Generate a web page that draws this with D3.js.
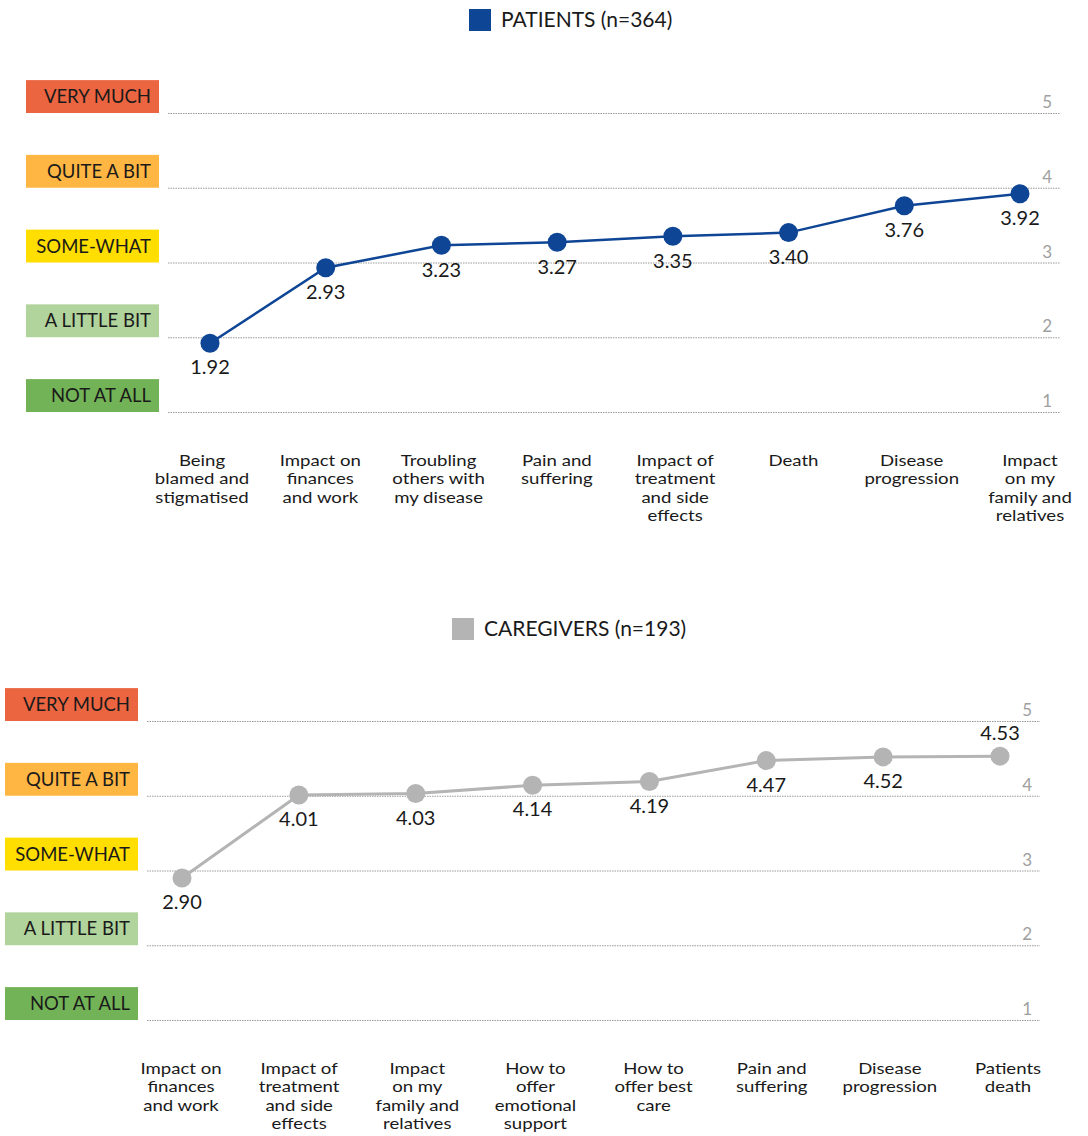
<!DOCTYPE html>
<html>
<head>
<meta charset="utf-8">
<script src="https://cdn.jsdelivr.net/npm/d3@7"></script>
<style>
  html, body { margin: 0; padding: 0; background: #fff; }
  svg { display: block; font-family: Lato, "Open Sans", sans-serif; }
</style>
</head>
<body>
<svg id="chart" width="1088" height="1136"></svg>
<script>
// Worry levels, shared by both panels
const levels = ["NOT AT ALL", "A LITTLE BIT", "SOME-WHAT", "QUITE A BIT", "VERY MUCH"];
const levelColors = ["#73b357", "#b1d49d", "#ffde00", "#ffb643", "#eb6541"];
const tickValues = [1, 2, 3, 4, 5];

// Patients
const patientCategories = [
  "Being\nblamed and\nstigmatised",
  "Impact on\nfinances\nand work",
  "Troubling\nothers with\nmy disease",
  "Pain and\nsuffering",
  "Impact of\ntreatment\nand side\neffects",
  "Death",
  "Disease\nprogression",
  "Impact\non my\nfamily and\nrelatives"
];
const patientValues = [1.92, 2.93, 3.23, 3.27, 3.35, 3.40, 3.76, 3.92];

// Caregivers
const caregiverCategories = [
  "Impact on\nfinances\nand work",
  "Impact of\ntreatment\nand side\neffects",
  "Impact\non my\nfamily and\nrelatives",
  "How to\noffer\nemotional\nsupport",
  "How to\noffer best\ncare",
  "Pain and\nsuffering",
  "Disease\nprogression",
  "Patients\ndeath"
];
const caregiverValues = [2.90, 4.01, 4.03, 4.14, 4.19, 4.47, 4.52, 4.53];

const svg = d3.select("#chart");

function drawPanel(cfg) {
  const g = svg.append("g");
  const y = d3.scaleLinear().domain([1, 5]).range([cfg.bottom, cfg.top]);
  const x = d3.scalePoint().domain(d3.range(cfg.categories.length)).range(cfg.xRange);

  // legend
  const lg = g.append("g");
  lg.append("rect")
    .attr("x", cfg.legendX).attr("y", cfg.legendY - 11)
    .attr("width", 22).attr("height", 22)
    .attr("fill", cfg.color);
  lg.append("text")
    .attr("x", cfg.legendX + 32).attr("y", cfg.legendY)
    .attr("dy", "0.35em")
    .attr("font-size", 21).attr("fill", "#1a1a1a")
    .text(cfg.title);

  // dotted gridlines
  g.append("g").selectAll("line").data(tickValues).join("line")
    .attr("x1", cfg.gridX[0]).attr("x2", cfg.gridX[1])
    .attr("y1", d => y(d) + 0.5).attr("y2", d => y(d) + 0.5)
    .attr("stroke", "#9a9a9a").attr("stroke-width", 1)
    .attr("stroke-dasharray", "1.5,1");

  // right-side tick numbers
  g.append("g").selectAll("text").data(tickValues).join("text")
    .attr("x", cfg.gridX[1] - 8).attr("y", d => y(d) - 5)
    .attr("text-anchor", "end")
    .attr("font-size", 17).attr("fill", "#a0a0a0")
    .text(d => d);

  // level boxes sitting on their gridlines
  const band = y(1) - y(2);
  const box = g.append("g").selectAll("g").data(tickValues).join("g");
  box.append("rect")
    .attr("x", cfg.boxX).attr("y", d => y(d) - band * 0.44)
    .attr("width", 133).attr("height", band * 0.44)
    .attr("fill", (d, i) => levelColors[i]);
  box.append("text")
    .attr("x", cfg.boxX + 125).attr("y", d => y(d) - band * 0.22)
    .attr("dy", "0.36em")
    .attr("text-anchor", "end")
    .attr("font-size", 18.5).attr("fill", "#1a1a1a")
    .text((d, i) => levels[i]);

  // line
  const line = d3.line().x((d, i) => x(i)).y(d => y(d));
  g.append("path")
    .datum(cfg.values)
    .attr("d", line)
    .attr("fill", "none")
    .attr("stroke", cfg.color)
    .attr("stroke-width", cfg.lineWidth);

  // points
  g.append("g").selectAll("circle").data(cfg.values).join("circle")
    .attr("cx", (d, i) => x(i)).attr("cy", d => y(d))
    .attr("r", 9.5)
    .attr("fill", cfg.color);

  // value labels
  g.append("g").selectAll("text").data(cfg.values).join("text")
    .attr("x", (d, i) => x(i))
    .attr("y", (d, i) => y(d) + (cfg.above.includes(i) ? -23 : 24))
    .attr("dy", "0.36em")
    .attr("text-anchor", "middle")
    .attr("font-size", 20).attr("fill", "#1a1a1a")
    .text(d => d.toFixed(2));

  // category labels: slightly widened type, tight leading
  const cat = g.append("g").selectAll("text").data(cfg.categories).join("text")
    .attr("transform", (d, i) => `translate(${cfg.labelX(i)},${cfg.labelY}) scale(1.2,1)`)
    .attr("text-anchor", "middle")
    .attr("font-size", 15.5).attr("fill", "#1a1a1a");
  cat.each(function(d) {
    const t = d3.select(this);
    d.split("\n").forEach((ln, k) => {
      t.append("tspan")
        .attr("x", 0)
        .attr("dy", k === 0 ? "0.36em" : 18.6)
        .text(ln);
    });
  });
}

const topLabel = d3.scalePoint().domain(d3.range(8)).range([202, 1030]);
drawPanel({
  categories: patientCategories,
  values: patientValues,
  color: "#0e4595",
  lineWidth: 2.5,
  title: "PATIENTS (n=364)",
  legendX: 469, legendY: 20,
  top: 113, bottom: 412,
  gridX: [168, 1060],
  boxX: 26,
  xRange: [210, 1020],
  labelX: i => topLabel(i),
  labelY: 460,
  above: []
});

const botLabel = d3.scalePoint().domain(d3.range(8)).range([181, 1008]);
drawPanel({
  categories: caregiverCategories,
  values: caregiverValues,
  color: "#b4b4b4",
  lineWidth: 3,
  title: "CAREGIVERS (n=193)",
  legendX: 452, legendY: 629,
  top: 721, bottom: 1020,
  gridX: [147, 1040],
  boxX: 5,
  xRange: [182, 1000],
  labelX: i => botLabel(i),
  labelY: 1068,
  above: [7]
});
</script>
</body>
</html>
